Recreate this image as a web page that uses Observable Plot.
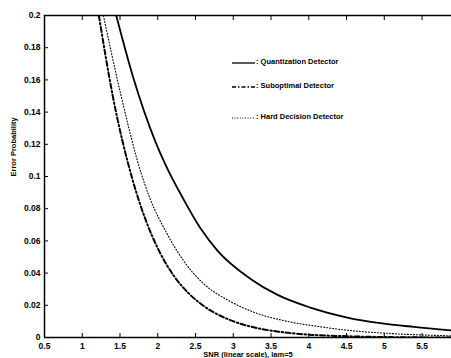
<!DOCTYPE html>
<html><head><meta charset="utf-8">
<script src="https://cdn.jsdelivr.net/npm/d3@7"></script>
<script src="https://cdn.jsdelivr.net/npm/@observablehq/plot@0.6"></script>
<style>
body{margin:0;background:#fff;}
#wrap{position:relative;width:451px;height:358px;overflow:hidden;font-family:"Liberation Sans",Arial,sans-serif;}
.leg{position:absolute;font-size:7.5px;font-weight:bold;color:#000;display:flex;align-items:center;white-space:nowrap;}
.leg svg{margin-right:1px;}
</style></head>
<body><div id="wrap"></div>
<script>
const quantX = [1.45, 1.675, 1.97, 2.10, 2.345, 2.566, 2.79, 3.23, 3.58, 4.02, 4.51, 4.95, 5.39, 5.9];
const quantY = [0.2, 0.1615, 0.1215, 0.1075, 0.0855, 0.0678, 0.054, 0.0364, 0.0266, 0.0186, 0.0124, 0.0089, 0.0066, 0.0044];
const subX = [1.22, 1.40, 1.66, 1.84, 2.01, 2.21, 2.43, 2.61, 2.96, 3.32, 3.6, 3.93, 4.5, 5.0, 5.9];
const subY = [0.2, 0.151, 0.099, 0.073, 0.0545, 0.0385, 0.0265, 0.0195, 0.0108, 0.0058, 0.0036, 0.002, 0.0008, 0.0003, 0.0];
const hardX = [1.28, 1.51, 1.78, 1.90, 2.125, 2.235, 2.43, 2.61, 2.96, 3.32, 3.71, 4.16, 4.60, 5.04, 5.9];
const hardY = [0.2, 0.151, 0.102, 0.086, 0.0643, 0.0553, 0.0422, 0.0333, 0.0224, 0.0149, 0.0101, 0.0066, 0.0041, 0.0026, 0.001];
const xTicks = [0.5, 1, 1.5, 2, 2.5, 3, 3.5, 4, 4.5, 5, 5.5];
const yTicks = [0, 0.02, 0.04, 0.06, 0.08, 0.1, 0.12, 0.14, 0.16, 0.18, 0.2];
const legendLabels = ["Quantization Detector", "Suboptimal Detector", "Hard Decision Detector"];
const xLabel = "SNR (linear scale), lam=5";
const yLabel = "Error Probability";

const mk = (xs, ys) => xs.map((x, i) => ({x, y: ys[i]}));
const quant = mk(quantX, quantY), sub = mk(subX, subY), hard = mk(hardX, hardY);
const yFmt = d => d === 0 ? "0" : d === 0.2 ? "0.2" : d3.format(".2f")(d).replace(/^0\.(\d)0$/, "0.$1");

const chart = Plot.plot({
  width: 451, height: 358,
  marginLeft: 44, marginRight: 0, marginTop: 15, marginBottom: 21,
  style: {fontFamily: "Liberation Sans, Arial, sans-serif", fontSize: "8.5px", fontWeight: "bold", background: "#fff", color: "#000"},
  x: {domain: [0.5, 5.89]},
  y: {domain: [0, 0.2]},
  marks: [
    Plot.axisX({ticks: xTicks, tickSize: -4, tickPadding: 9, tickFormat: d => String(d), label: null}),
    Plot.axisX({anchor: "top", ticks: xTicks, tickSize: -4, tickFormat: () => "", label: null}),
    Plot.axisY({ticks: yTicks, tickSize: -4, tickPadding: 8, tickFormat: yFmt, label: null}),
    Plot.ruleY([0], {strokeWidth: 1.5}),
    Plot.ruleY([0.2], {strokeWidth: 1.5}),
    Plot.ruleX([0.5], {strokeWidth: 1.5}),
    Plot.line(quant, {x: "x", y: "y", stroke: "#000", strokeWidth: 1.8, curve: "monotone-x", clip: true}),
    Plot.line(sub, {x: "x", y: "y", stroke: "#000", strokeWidth: 2, strokeDasharray: "5,2.5,1.5,2.5", curve: "monotone-x", clip: true}),
    Plot.line(hard, {x: "x", y: "y", stroke: "#000", strokeWidth: 1.1, strokeDasharray: "1,2", curve: "monotone-x", clip: true}),
    Plot.text([xLabel], {frameAnchor: "bottom", dy: 19, fontSize: 7.5, fontWeight: "bold"}),
    Plot.text([yLabel], {frameAnchor: "left", dx: -31, rotate: -90, fontSize: 7.5, fontWeight: "bold"})
  ]
});
const wrap = document.getElementById("wrap");
wrap.appendChild(chart);

const legTops = [57, 81, 112];
const dashes = ["none", "4,2,1.5,2", "1,1.6"];
const widths = [1.3, 1.3, 1];
legendLabels.forEach((lab, i) => {
  const d = document.createElement("div");
  d.className = "leg";
  d.style.left = "232px";
  d.style.top = legTops[i] + "px";
  d.innerHTML = `<svg width="23" height="8"><line x1="0" y1="5" x2="23" y2="5" stroke="#000" stroke-width="${widths[i]}" stroke-dasharray="${dashes[i]}"/></svg><span>: ${lab}</span>`;
  wrap.appendChild(d);
});
</script></body></html>
